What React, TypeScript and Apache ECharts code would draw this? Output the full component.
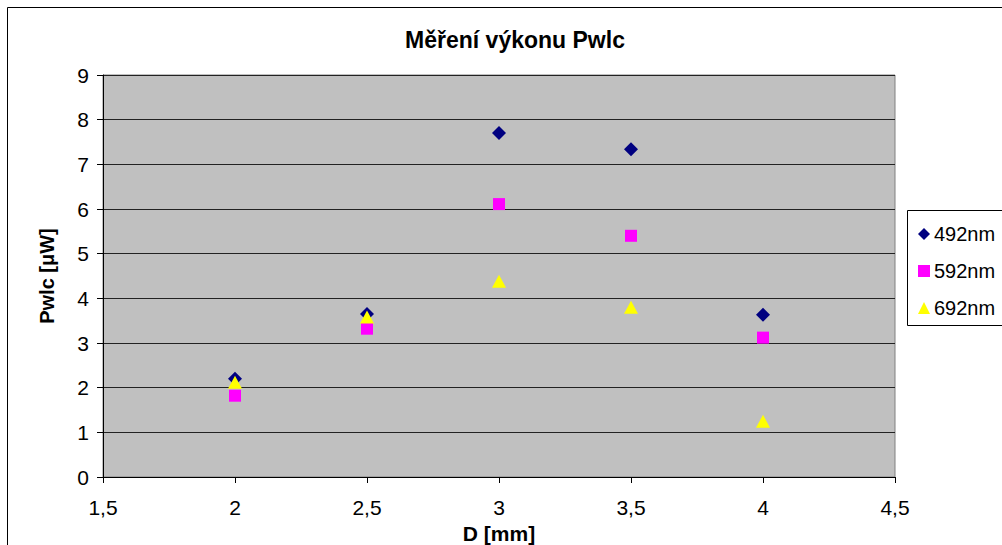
import React, { useEffect, useRef } from "react";
import * as echarts from "echarts";

const seriesNames = ["492nm", "592nm", "692nm"];
const xValues = [2, 2.5, 3, 3.5, 4];
const values492 = [2.2, 3.65, 7.7, 7.34, 3.63];
const values592 = [1.82, 3.32, 6.11, 5.4, 3.12];
const values692 = [2.12, 3.58, 4.38, 3.8, 1.25];
const chartTitle = "Měření výkonu Pwlc";
const xTitle = "D [mm]";
const yTitle = "Pwlc [μW]";

const FONT = "'Liberation Sans', Arial, sans-serif";

export default function App() {
  const ref = useRef<HTMLDivElement>(null);
  useEffect(() => {
    document.body.style.margin = "0";
    const chart = echarts.init(ref.current!, null, { renderer: "svg" });
    const pts = (vals: number[]) => xValues.map((x, i) => [x, vals[i]]);
    chart.setOption({
      animation: false,
      backgroundColor: "#fff",
      textStyle: { fontFamily: FONT },
      title: {
        text: chartTitle,
        left: 510,
        top: 23,
        textAlign: "center",
        textStyle: { fontSize: 23, fontWeight: "bold", color: "#000", fontFamily: FONT },
      },
      graphic: [
        {
          type: "rect",
          z: -10,
          shape: { x: 7.5, y: 7.5, width: 1100, height: 600 },
          style: { fill: "#fff", stroke: "#000", lineWidth: 1 },
        },
        {
          type: "rect",
          z: 0,
          shape: { x: 907.5, y: 210.5, width: 200, height: 115 },
          style: { fill: "#fff", stroke: "#000", lineWidth: 1 },
        },
      ],
      legend: {
        orient: "vertical",
        left: 913,
        top: 219,
        itemGap: 17,
        itemWidth: 12,
        itemHeight: 12,
        textStyle: { fontSize: 20, color: "#000", fontFamily: FONT, padding: [0, 0, 0, -1] },
        data: [
          { name: seriesNames[0], icon: "diamond" },
          { name: seriesNames[1], icon: "rect" },
          { name: seriesNames[2], icon: "triangle" },
        ],
        z: 5,
      },
      grid: {
        left: 103,
        top: 75,
        right: 107,
        bottom: 68,
        containLabel: false,
        outerBoundsMode: "none",
        show: true,
        backgroundColor: "#C0C0C0",
        borderColor: "#808080",
        borderWidth: 1,
      },
      xAxis: {
        type: "value",
        min: 1.5,
        max: 4.5,
        interval: 0.5,
        name: xTitle,
        nameLocation: "middle",
        nameGap: 38,
        nameTextStyle: { fontSize: 21, fontWeight: "bold", color: "#000", fontFamily: FONT },
        axisLine: { show: true, onZero: false, lineStyle: { color: "#000", width: 1 } },
        axisTick: { show: true, length: 6, inside: false, lineStyle: { color: "#000" } },
        axisLabel: {
          fontSize: 21,
          color: "#000",
          margin: 20,
          fontFamily: FONT,
          formatter: (v: number) => String(v).replace(".", ","),
        },
        splitLine: { show: false },
      },
      yAxis: {
        type: "value",
        min: 0,
        max: 9,
        interval: 1,
        name: yTitle,
        nameLocation: "middle",
        nameGap: 46,
        nameRotate: 90,
        nameTextStyle: { fontSize: 20, fontWeight: "bold", color: "#000", fontFamily: FONT },
        axisLine: { show: true, lineStyle: { color: "#000", width: 1 } },
        axisTick: { show: true, length: 6, inside: false, lineStyle: { color: "#000" } },
        axisLabel: { fontSize: 21, color: "#000", margin: 14, fontFamily: FONT },
        splitLine: { show: true, lineStyle: { color: "#222", width: 1 } },
      },
      series: [
        {
          name: seriesNames[0],
          type: "scatter",
          symbol: "diamond",
          symbolSize: [14, 14],
          itemStyle: { color: "#000080", opacity: 1 },
          data: pts(values492),
          z: 2,
        },
        {
          name: seriesNames[1],
          type: "scatter",
          symbol: "rect",
          symbolSize: [12, 12],
          itemStyle: { color: "#FF00FF", opacity: 1 },
          data: pts(values592),
          z: 3,
        },
        {
          name: seriesNames[2],
          type: "scatter",
          symbol: "triangle",
          symbolSize: [14, 13],
          itemStyle: { color: "#FFFF00", opacity: 1 },
          data: pts(values692),
          z: 4,
        },
      ],
    });
    return () => chart.dispose();
  }, []);
  return <div ref={ref} style={{ width: 1002, height: 545 }} />;
}
